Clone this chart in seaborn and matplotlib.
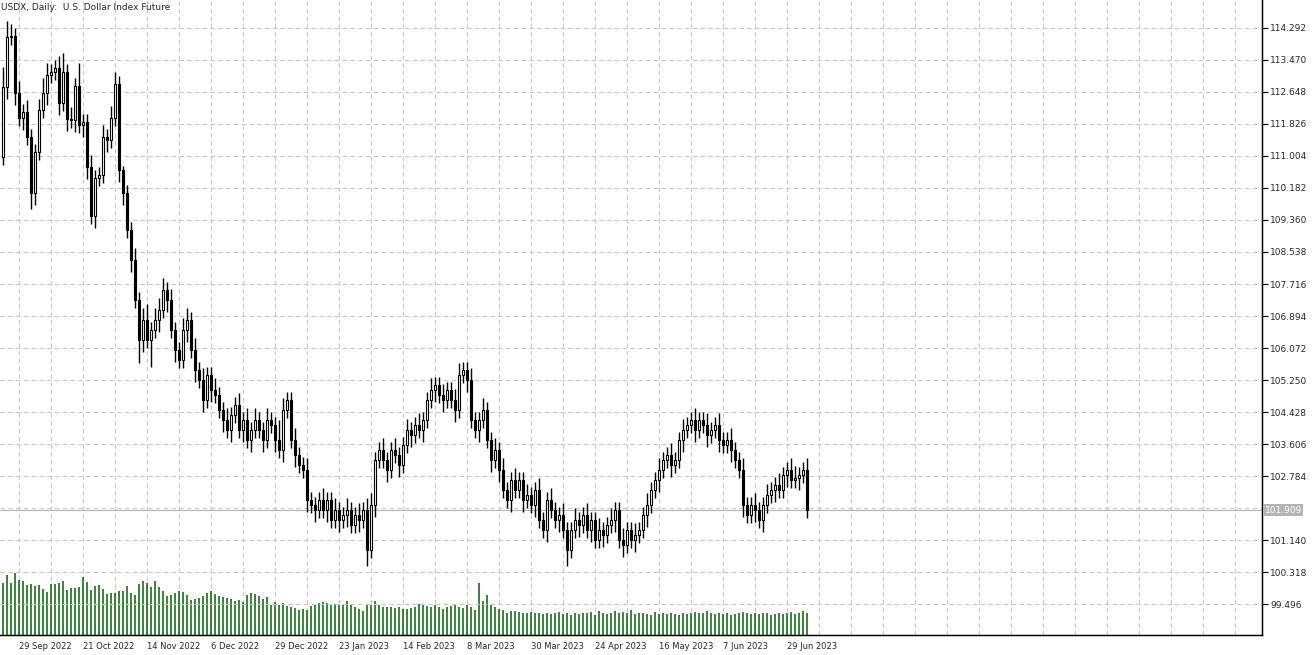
import numpy as np
import matplotlib
matplotlib.use("Agg")
import matplotlib.pyplot as plt
import seaborn as sns

title = "USDX, Daily:  U.S. Dollar Index Future"
first_open = 110.98
closes = [112.78,114.06,114.09,112.62,111.98,112.13,111.49,110.05,111.11,112.18,
          112.62,113.08,113.16,113.26,112.36,113.16,111.95,111.93,112.80,111.80,
          111.88,110.72,109.46,110.44,110.51,111.49,111.41,111.98,112.85,110.64,
          110.05,109.10,108.33,107.30,106.28,106.79,106.28,106.53,106.79,107.05,
          107.56,107.30,106.53,106.02,105.76,106.53,106.79,106.02,105.50,105.25,
          104.73,105.38,104.99,104.86,104.48,104.22,103.96,104.35,104.61,103.96,
          104.22,103.71,103.96,104.22,103.96,103.71,104.22,104.09,103.71,103.45,
          104.48,104.73,103.71,103.32,103.07,102.94,102.17,102.04,101.91,102.17,
          101.91,102.17,101.65,101.91,101.65,101.78,101.91,101.52,101.78,101.65,
          101.91,100.88,102.04,103.19,103.45,103.19,102.94,103.45,103.32,103.07,
          103.58,103.96,103.84,104.09,103.96,104.22,104.73,104.99,105.12,104.86,
          104.73,104.99,104.73,104.48,105.38,105.50,105.25,104.22,103.96,104.22,
          104.48,103.71,103.19,103.45,102.94,102.42,102.17,102.68,102.42,102.68,
          102.17,102.29,102.04,102.42,101.65,101.40,102.17,101.91,101.65,101.78,
          101.40,100.88,101.40,101.65,101.52,101.78,101.40,101.65,101.14,101.40,
          101.27,101.52,101.65,101.91,101.14,101.01,101.40,101.14,101.27,101.40,
          101.78,102.04,102.42,102.68,102.94,103.19,103.32,103.07,103.19,103.71,
          103.96,104.09,104.22,103.96,104.22,104.09,103.84,103.96,104.09,103.71,
          103.58,103.71,103.45,103.19,102.94,102.04,101.78,102.04,101.91,101.65,
          102.04,102.29,102.42,102.55,102.42,102.81,102.94,102.68,102.73,102.81,
          102.94,101.91]
wick_up = [0.5,0.4,0.3,0.2,0.3,0.2,0.3,0.2,0.2,0.3, 0.4,0.3,0.2,0.2,0.3,0.5,0.2,0.3,0.2,0.6,
           0.2,0.2,0.3,0.2,0.2,0.3,0.2,0.3,0.3,0.2, 0.1,0.2,0.2,0.3,0.2,0.3,0.4,0.2,0.3,0.3,
           0.3,0.2,0.3,0.2,0.2,0.3,0.3,0.2,0.3,0.2, 0.3,0.2,0.2,0.3,0.2,0.2,0.3,0.2,0.2,0.3,
           0.2,0.3,0.2,0.3,0.2,0.2,0.3,0.2,0.2,0.5, 0.3,0.2,0.2,0.3,0.2,0.2,0.3,0.2,0.2,0.2,
           0.3,0.2,0.2,0.3,0.2,0.2,0.3,0.2,0.2,0.3, 0.2,0.3,0.3,0.2,0.2,0.3,0.2,0.2,0.3,0.2,
           0.2,0.3,0.2,0.2,0.3,0.2,0.2,0.3,0.2,0.2, 0.3,0.2,0.2,0.3,0.3,0.2,0.2,0.3,0.2,0.2,
           0.3,0.2,0.2,0.3,0.2,0.3,0.2,0.2,0.3,0.2, 0.2,0.3,0.2,0.2,0.3,0.2,0.2,0.3,0.2,0.2,
           0.3,0.2,0.2,0.3,0.2,0.2,0.3,0.2,0.2,0.3, 0.2,0.2,0.3,0.2,0.2,0.3,0.2,0.2,0.3,0.2,
           0.2,0.3,0.2,0.2,0.3,0.2,0.2,0.3,0.2,0.2, 0.3,0.2,0.2,0.3,0.2,0.2,0.3,0.2,0.2,0.3,
           0.2,0.2,0.3,0.2,0.2,0.3,0.2,0.2,0.3,0.2, 0.2,0.3,0.2,0.2,0.3,0.2,0.2,0.3,0.3,0.2,
           0.2,0.3]
wick_dn = [0.2,0.3,0.2,0.3,0.2,0.3,0.2,0.4,0.3,0.2, 0.2,0.3,0.2,0.2,0.3,0.2,0.3,0.2,0.3,0.2,
           0.3,0.3,0.2,0.3,0.2,0.2,0.3,0.2,0.2,0.3, 0.3,0.2,0.3,0.2,0.6,0.3,0.2,0.7,0.2,0.3,
           0.2,0.3,0.2,0.3,0.2,0.2,0.3,0.2,0.3,0.2, 0.3,0.2,0.3,0.2,0.2,0.3,0.2,0.3,0.2,0.2,
           0.3,0.2,0.3,0.2,0.2,0.3,0.2,0.2,0.3,0.2, 0.3,0.2,0.2,0.3,0.2,0.2,0.3,0.2,0.3,0.2,
           0.2,0.3,0.2,0.2,0.3,0.2,0.3,0.2,0.2,0.3, 0.2,0.4,0.2,0.3,0.2,0.2,0.3,0.2,0.2,0.3,
           0.2,0.2,0.3,0.2,0.2,0.3,0.2,0.2,0.3,0.2, 0.3,0.2,0.2,0.3,0.2,0.2,0.3,0.2,0.2,0.3,
           0.2,0.2,0.3,0.2,0.3,0.2,0.2,0.3,0.2,0.2, 0.3,0.2,0.2,0.3,0.2,0.2,0.3,0.2,0.2,0.3,
           0.2,0.4,0.2,0.2,0.3,0.2,0.2,0.3,0.2,0.2, 0.3,0.2,0.2,0.3,0.2,0.3,0.2,0.2,0.3,0.2,
           0.2,0.3,0.2,0.2,0.3,0.2,0.2,0.3,0.2,0.2, 0.3,0.2,0.2,0.3,0.2,0.2,0.3,0.2,0.2,0.3,
           0.2,0.2,0.3,0.2,0.2,0.3,0.2,0.2,0.3,0.2, 0.3,0.2,0.2,0.3,0.2,0.2,0.3,0.2,0.2,0.3,
           0.2,0.2]
volume = [52,60,52,62,55,54,50,51,49,50, 46,43,51,51,52,54,45,47,47,48, 58,53,45,49,50,46,41,42,42,44,
          44,49,42,40,51,54,52,48,54,48, 44,39,40,42,44,43,40,35,36,37, 39,42,44,41,39,38,37,36,34,35,
          33,40,42,41,39,36,38,30,33,30, 32,29,28,27,25,26,25,29,31,32, 33,32,30,31,30,30,34,30,28,26,
          24,30,30,34,30,28,28,28,27,28, 26,26,27,28,31,30,29,28,30,28, 26,28,29,30,28,27,30,28,25,52,
          34,40,30,28,26,25,22,24,24,23, 22,22,23,22,22,21,22,21,22,23, 21,22,20,22,21,22,22,23,20,24,
          22,21,22,24,22,23,22,25,21,22, 22,21,20,23,21,22,21,22,21,20, 22,21,22,23,22,22,24,22,21,22,
          21,22,20,21,22,23,22,21,22,21, 22,22,20,21,22,21,22,23,21,22, 24,22]
price_ticks = [99.496,100.318,101.140,102.784,103.606,104.428,105.250,106.072,106.894,
               107.716,108.538,109.360,110.182,111.004,111.826,112.648,113.470,114.292]
date_labels = ["29 Sep 2022","21 Oct 2022","14 Nov 2022","6 Dec 2022","29 Dec 2022",
               "23 Jan 2023","14 Feb 2023","8 Mar 2023","30 Mar 2023","24 Apr 2023",
               "16 May 2023","7 Jun 2023","29 Jun 2023"]
last_price = 101.909

sns.set_style("white")
plt.rcParams['font.family'] = ['DejaVu Sans']

n = len(closes)
idx = np.arange(n)
opens = np.array([first_open] + closes[:-1])
cl = np.array(closes)
highs = np.maximum(opens, cl) + np.array(wick_up[:n])
lows = np.minimum(opens, cl) - np.array(wick_dn[:n])

fig = plt.figure(figsize=(13.12, 6.55), dpi=100)
ax = fig.add_axes([0, 20/655, 1262/1312, 635/655])
ax2 = ax.twinx()
ax.set_zorder(2); ax.patch.set_visible(False)

x0, x1 = -0.75, 314.75
ax.set_xlim(x0, x1); ax2.set_xlim(x0, x1)
ax.set_ylim(98.70, 115.011)

grid_x = np.arange(4, 315, 8)
for gx in grid_x:
    ax2.axvline(gx, color="#c8c8c8", lw=0.8, ls=(0, (4, 3)), zorder=0)
for py in price_ticks + [101.962]:
    ax.axhline(py, color="#c8c8c8", lw=0.8, ls=(0, (4, 3)), zorder=0)

ax2.set_ylim(0, 62 * 635 / 62.5)
ax2.vlines(idx, 0, volume[:n], color="#006400", lw=1.1, zorder=1)
ax2.set_yticks([])

ax.vlines(idx, lows, highs, color="black", lw=1, zorder=3)
up = cl >= opens
body = np.maximum(np.abs(cl - opens), 0.03)
bottoms = np.minimum(opens, cl)
ax.bar(idx[up], body[up], bottom=bottoms[up], width=0.7, color="white",
       edgecolor="black", linewidth=0.8, zorder=4)
ax.bar(idx[~up], body[~up], bottom=bottoms[~up], width=0.7, color="black",
       edgecolor="black", linewidth=0.8, zorder=4)

ax.axhline(last_price, color="#b4b4b4", lw=0.8, zorder=1)

ax.yaxis.tick_right()
ax.set_yticks(price_ticks)
ax.set_yticklabels([f"{p:.3f}" for p in price_ticks], fontsize=6.5)
ax.tick_params(axis="y", length=4, width=0.8, pad=2, color="black")
ax.text(1.002, (last_price - 98.70) / (115.011 - 98.70), f"{last_price:.3f}",
        transform=ax.transAxes, fontsize=6.5, color="white", va="center", ha="left",
        bbox=dict(boxstyle="square,pad=0.15", fc="#b4b4b4", ec="none"), clip_on=False)

tick_pos = [4 + 16 * k for k in range(len(date_labels))]
ax.set_xticks(tick_pos)
ax.set_xticklabels(date_labels, fontsize=6, ha="left")
ax.tick_params(axis="x", length=4, width=0.8, pad=1)
ax2.tick_params(axis="x", length=0, labelbottom=False)

for s in ["top", "left"]:
    ax.spines[s].set_visible(False); ax2.spines[s].set_visible(False)
for s in ["right", "bottom"]:
    ax.spines[s].set_color("black"); ax.spines[s].set_linewidth(1)

ax.text(0.001, 0.995, title, transform=ax.transAxes, fontsize=6.5, va="top", ha="left")

fig.savefig("out.png", dpi=100)
